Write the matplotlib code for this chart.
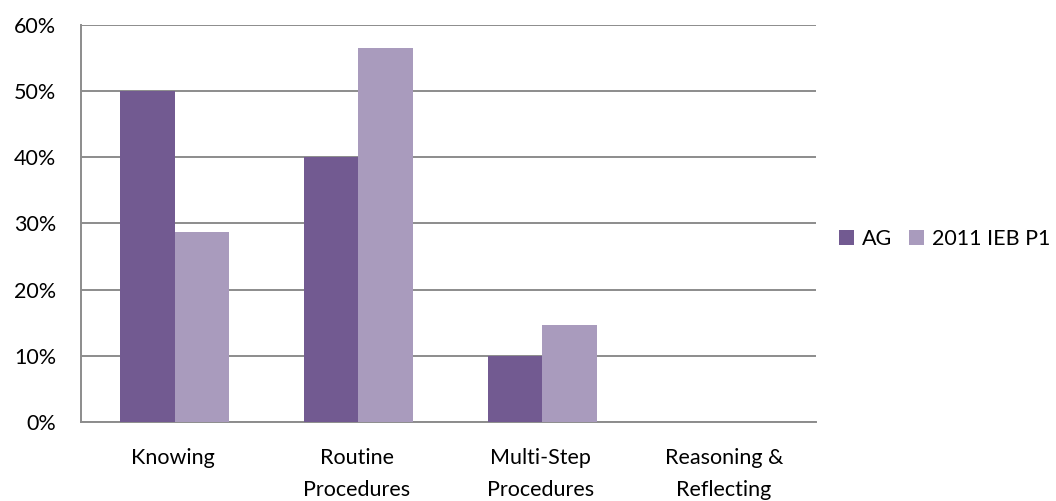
import matplotlib
matplotlib.use("Agg")
import matplotlib.pyplot as plt
import numpy as np
from matplotlib.ticker import PercentFormatter

categories = ["Knowing", "Routine\nProcedures", "Multi-Step\nProcedures", "Reasoning &\nReflecting"]
series_names = ["AG", "2011 IEB P1"]
ag_values = [50.0, 40.0, 10.0, 0.0]
ieb_values = [28.7, 56.6, 14.7, 0.0]
colors = ["#725A91", "#A99BBD"]

plt.rcParams["font.family"] = ["Lato", "DejaVu Sans"]

fig = plt.figure(figsize=(10.56, 5.01), dpi=100)
ax = fig.add_axes([0.0767, 0.158, 0.696, 0.792])

x = np.arange(len(categories))
w = 0.297
ax.bar(x - w / 2 + 0.01, ag_values, w, color=colors[0], label=series_names[0], zorder=3)
ax.bar(x + w / 2 + 0.01, ieb_values, w, color=colors[1], label=series_names[1], zorder=3)

ax.set_xlim(-0.5, len(categories) - 0.5)
ax.set_ylim(0, 60)
ax.set_yticks(np.arange(0, 61, 10))
ax.yaxis.set_major_formatter(PercentFormatter(decimals=0))
ax.set_xticks(x)
ax.set_xticklabels(categories, linespacing=1.75)

grid_color = "#8C8C8C"
ax.yaxis.grid(True, color=grid_color, linewidth=1.4, zorder=0)
ax.set_axisbelow(True)
for side in ["top", "right"]:
    ax.spines[side].set_visible(False)
for side in ["left", "bottom"]:
    ax.spines[side].set_color(grid_color)
    ax.spines[side].set_linewidth(1.4)

ax.tick_params(axis="both", length=0, labelsize=15.5, colors="#000000")
ax.tick_params(axis="y", pad=18)
ax.tick_params(axis="x", pad=19)

ax.legend(loc="center left", bbox_to_anchor=(1.02, 0.46), ncol=2, frameon=False,
          fontsize=15.5, handlelength=0.7, handleheight=0.7, handletextpad=0.35,
          columnspacing=0.8, borderaxespad=0)

fig.savefig("out.png", dpi=100)
